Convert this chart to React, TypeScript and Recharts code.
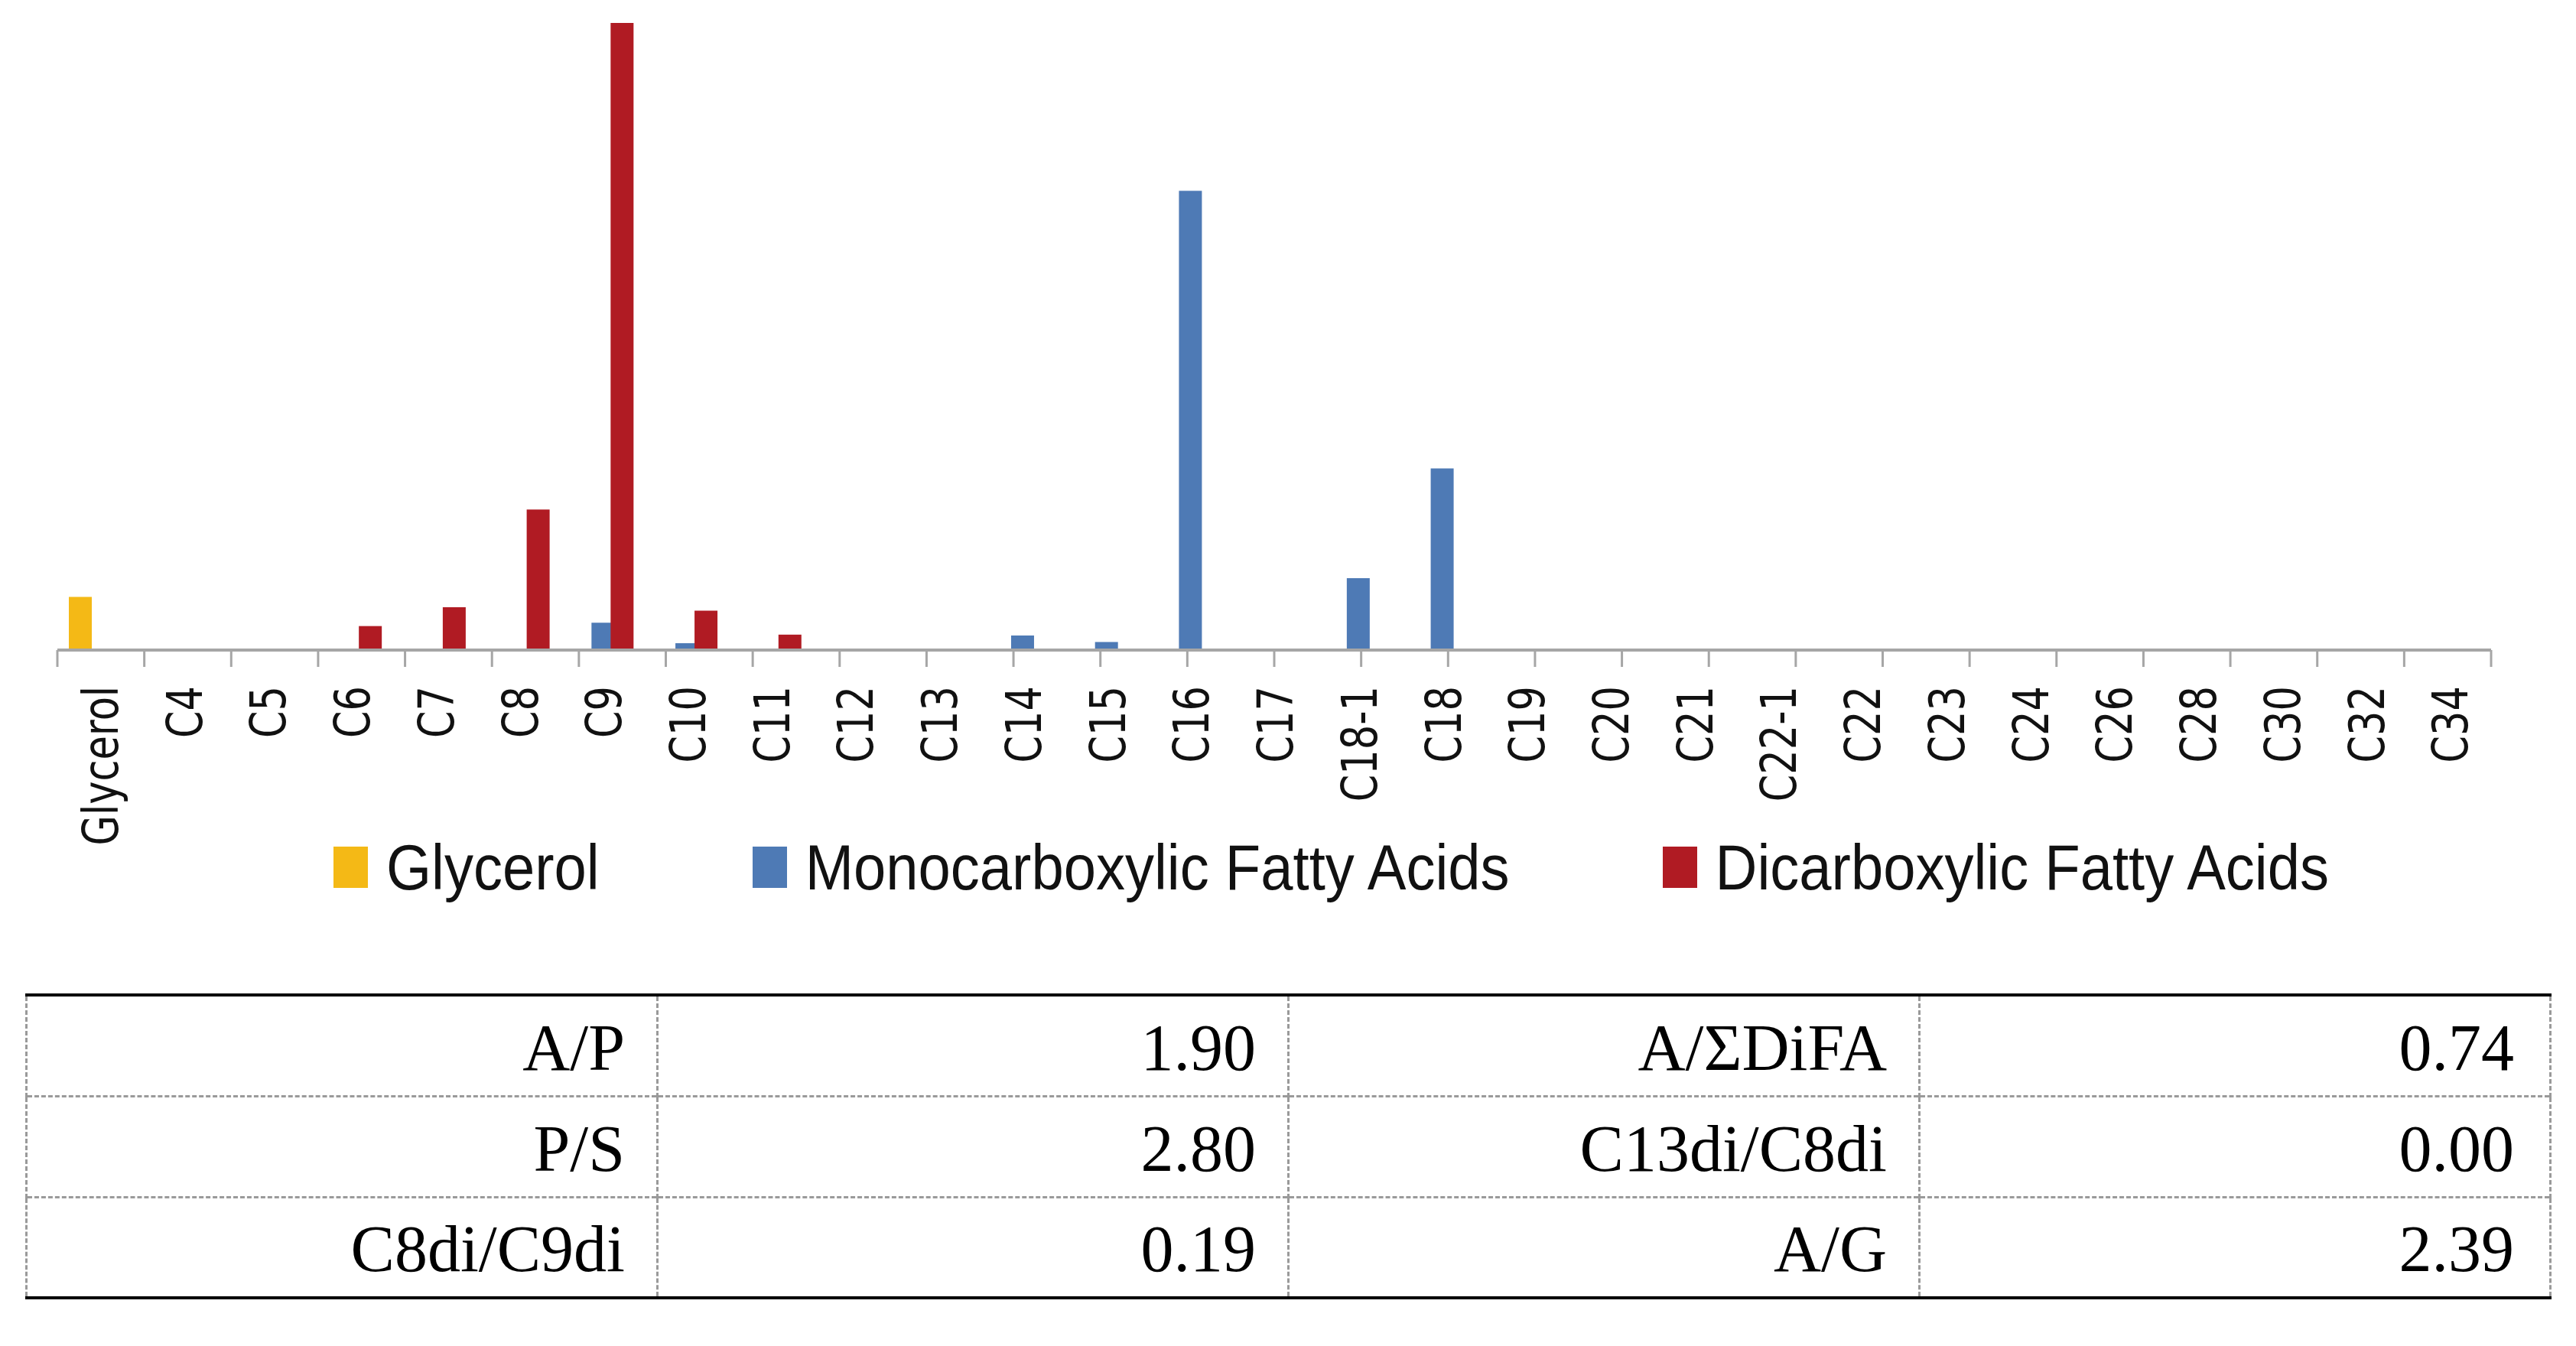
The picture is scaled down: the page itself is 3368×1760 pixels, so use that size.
import React from 'react';
import { BarChart, Bar, XAxis, YAxis } from 'recharts';

const categories = [
  'Glycerol', 'C4', 'C5', 'C6', 'C7', 'C8', 'C9', 'C10', 'C11', 'C12', 'C13', 'C14', 'C15',
  'C16', 'C17', 'C18-1', 'C18', 'C19', 'C20', 'C21', 'C22-1', 'C22', 'C23', 'C24', 'C26',
  'C28', 'C30', 'C32', 'C34',
];

// relative abundance (%)
const glycerol = [3.1, 0, 0, 0, 0, 0, 0, 0, 0, 0, 0, 0, 0, 0, 0, 0, 0, 0, 0, 0, 0, 0, 0, 0, 0, 0, 0, 0, 0];
const monoFA = [0, 0, 0, 0, 0, 0, 1.6, 0.4, 0, 0, 0, 0.85, 0.47, 26.8, 0, 4.2, 10.6, 0, 0, 0, 0, 0, 0, 0, 0, 0, 0, 0, 0];
const diFA = [0, 0, 0, 1.4, 2.5, 8.2, 36.6, 2.3, 0.9, 0, 0, 0, 0, 0, 0, 0, 0, 0, 0, 0, 0, 0, 0, 0, 0, 0, 0, 0, 0];

const series = [
  { key: 'glycerol', name: 'Glycerol', color: '#F4B916' },
  { key: 'mono', name: 'Monocarboxylic Fatty Acids', color: '#4E7AB5' },
  { key: 'di', name: 'Dicarboxylic Fatty Acids', color: '#B01B23' },
];

const ratioRows = [
  ['A/P', '1.90', 'A/ΣDiFA', '0.74'],
  ['P/S', '2.80', 'C13di/C8di', '0.00'],
  ['C8di/C9di', '0.19', 'A/G', '2.39'],
];

const data = categories.map((name, i) => ({
  name,
  glycerol: glycerol[i],
  mono: monoFA[i],
  di: diFA[i],
}));

// boundaries between categories, for the tick marks
const edgeTicks = categories.map((_, i) => i).concat(categories.length);

const GRAY = '#A6A6A6';

function CatTick(props: any) {
  const { x, y, payload } = props;
  return (
    <g transform={`translate(${x + 2},${y + 46})`}>
      <text
        transform="rotate(-90) scale(1,1.25)"
        textAnchor="end"
        dominantBaseline="central"
        fontFamily="DejaVu Sans"
        fontSize={51}
        fill="#111"
      >
        {payload.value}
      </text>
    </g>
  );
}

export default function App() {
  const cell = (i: number, r: number): React.CSSProperties => ({
    textAlign: 'right',
    verticalAlign: 'middle',
    paddingRight: i === 3 ? 46 : 41,
    paddingTop: 6,
    borderLeft: '3px dashed #9A9A9A',
    borderRight: i === 3 ? '3px dashed #9A9A9A' : undefined,
    borderTop: r > 0 ? '3px dashed #9A9A9A' : undefined,
    height: 132,
    width: 825,
    boxSizing: 'border-box',
  });

  return (
    <div
      style={{
        position: 'absolute',
        left: 0,
        top: 0,
        width: 3368,
        height: 1760,
        background: '#fff',
        overflow: 'hidden',
      }}
    >
      <BarChart
        width={3368}
        height={1131}
        data={data}
        margin={{ top: 30, right: 111, left: 75, bottom: 0 }}
        barSize={30}
        barGap={-5}
      >
        <XAxis
          xAxisId="a_edges"
          type="number"
          domain={[0, categories.length]}
          ticks={edgeTicks}
          allowDataOverflow
          tick={() => <g />}
          tickSize={22}
          tickLine={{ stroke: GRAY, strokeWidth: 3 }}
          axisLine={{ stroke: GRAY, strokeWidth: 4 }}
          height={1}
        />
        <XAxis
          xAxisId="b_cat"
          dataKey="name"
          interval={0}
          tickLine={false}
          axisLine={false}
          tickSize={0}
          tickMargin={0}
          height={280}
          tick={<CatTick />}
        />
        <YAxis hide domain={[0, 36.6]} />
        {series.map((s) => (
          <Bar
            key={s.key}
            xAxisId="b_cat"
            dataKey={s.key}
            name={s.name}
            fill={s.color}
            isAnimationActive={false}
          />
        ))}
      </BarChart>

      <div
        style={{
          position: 'absolute',
          left: 436,
          top: 1096,
          display: 'flex',
          alignItems: 'center',
          gap: 200,
          fontFamily: 'Liberation Sans',
          fontSize: 76,
          lineHeight: '76px',
          color: '#111',
          whiteSpace: 'nowrap',
        }}
      >
        {series.map((s) => (
          <div key={s.key} style={{ display: 'flex', alignItems: 'center' }}>
            <span style={{ width: 45, height: 54, background: s.color, marginRight: 24 }} />
            <span style={{ display: 'inline-block', transform: 'scaleY(1.1)' }}>{s.name}</span>
          </div>
        ))}
      </div>

      <table
        style={{
          position: 'absolute',
          left: 33,
          top: 1299,
          width: 3302,
          borderCollapse: 'collapse',
          borderTop: '4px solid #000',
          borderBottom: '4px solid #000',
          fontFamily: 'Liberation Serif',
          fontSize: 86,
          lineHeight: '86px',
          color: '#000',
          tableLayout: 'fixed',
        }}
      >
        <tbody>
          {ratioRows.map((row, r) => (
            <tr key={r}>
              {row.map((v, i) => (
                <td key={i} style={cell(i, r)}>
                  {v}
                </td>
              ))}
            </tr>
          ))}
        </tbody>
      </table>
    </div>
  );
}
